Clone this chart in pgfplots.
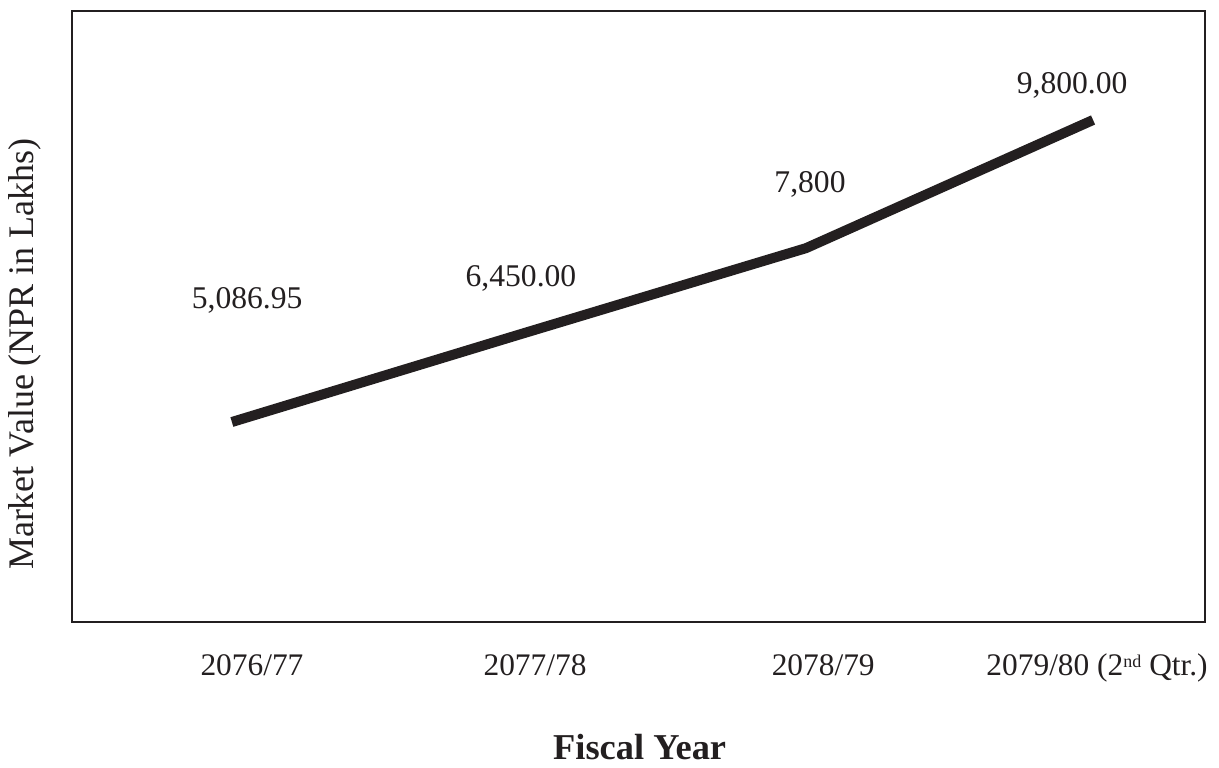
\documentclass[border=0pt]{standalone}
\usepackage{fontspec}
\setmainfont{Liberation Serif}
\usepackage{pgfplots}
\pgfplotsset{compat=1.18}
\definecolor{ink}{HTML}{231F20}
\begin{document}
\begin{tikzpicture}
\useasboundingbox (-36pt,-72.5pt) rectangle (573.5pt,311pt);
\begin{axis}[at={(0,0)}, anchor=south west, scale only axis,
  width=566.5pt, height=305.5pt,
  xmin=-0.557, xmax=3.39, ymin=1966, ymax=11501,
  axis line style={ink, line width=1pt},
  xtick={0.07,1.056,2.06,3.014},
  xticklabels={2076/77,2077/78,2078/79,{2079/80 (2\raisebox{0.55ex}{\fontsize{9}{10}\selectfont nd} Qtr.)}},
  major tick length=0pt, ytick=\empty,
  xticklabel style={anchor=base, yshift=-26.5pt, font=\fontsize{15.7}{18}\selectfont, text=ink},
  xlabel={\textbf{Fiscal Year}},
  xlabel style={at={(axis description cs:0.501,-0.2245)}, anchor=base, font=\fontsize{18.2}{21}\selectfont, text=ink},
  ylabel={Market Value (NPR in Lakhs)},
  ylabel style={at={(axis description cs:-0.0415,0.4386)}, anchor=center, font=\fontsize{18}{21}\selectfont, text=ink},
  clip=false]
\addplot[ink, line width=5pt] coordinates {(0,5086.95) (1,6450) (2,7800) (3,9800)};
\node[anchor=base, text=ink, font=\fontsize{15.8}{18}\selectfont, inner sep=0pt] at (axis cs:0.053,6851) {5,086.95};
\node[anchor=base, text=ink, font=\fontsize{15.8}{18}\selectfont, inner sep=0pt] at (axis cs:1.007,7194) {6,450.00};
\node[anchor=base, text=ink, font=\fontsize{15.8}{18}\selectfont, inner sep=0pt] at (axis cs:2.014,8661) {7,800};
\node[anchor=base, text=ink, font=\fontsize{15.8}{18}\selectfont, inner sep=0pt] at (axis cs:2.927,10221) {9,800.00};
\end{axis}
\end{tikzpicture}
\end{document}
